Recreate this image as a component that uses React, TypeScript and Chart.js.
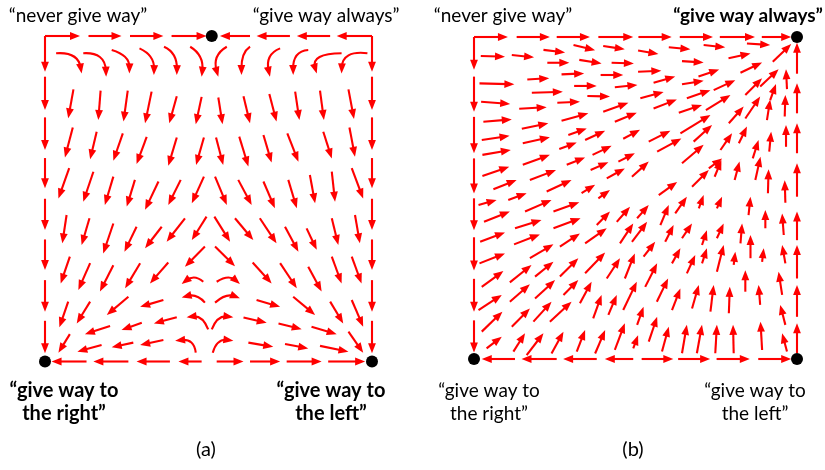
import React, { useEffect, useRef } from "react";
import { Chart, registerables } from "chart.js";

Chart.register(...registerables);

// Each arrow: [x1, y1, x2, y2] (straight) or [x1, y1, xm, ym, x2, y2] (curved through mid point)
// Coordinates are the strategy-space values (0..1) of tail and head.

// ---------- Panel (a) ----------
const aEdgeTop = [
  [0, 1, 0.107, 1], [0.133, 1, 0.234, 1], [0.26, 1, 0.362, 1], [0.387, 1, 0.494, 1],
  [0.627, 1, 0.535, 1], [0.749, 1, 0.647, 1], [0.872, 1, 0.77, 1], [1, 1, 0.892, 1],
];
const aEdgeBottom = [
  [0.127, 0, 0.02, 0], [0.255, 0, 0.148, 0], [0.382, 0, 0.28, 0], [0.479, 0, 0.408, 0],
  [0.525, 0, 0.607, 0], [0.627, 0, 0.719, 0], [0.739, 0, 0.846, 0], [0.866, 0, 0.979, 0],
];
const aEdgeLeft = [
  [0, 1, 0, 0.89], [0, 0.875, 0, 0.773], [0, 0.75, 0, 0.65], [0, 0.625, 0, 0.532],
  [0, 0.5, 0, 0.404], [0, 0.375, 0, 0.281], [0, 0.25, 0, 0.153], [0, 0.125, 0, 0.025],
];
const aEdgeRight = [
  [1, 1, 1, 0.89], [1, 0.875, 1, 0.773], [1, 0.75, 1, 0.65], [1, 0.625, 1, 0.532],
  [1, 0.5, 1, 0.404], [1, 0.375, 1, 0.281], [1, 0.25, 1, 0.153], [1, 0.125, 1, 0.025],
];
const aRow1 = [
  [0.034, 0.947, 0.087, 0.934, 0.112, 0.885],
  [0.117, 0.947, 0.168, 0.931, 0.187, 0.875],
  [0.204, 0.957, 0.245, 0.931, 0.258, 0.885],
  [0.289, 0.962, 0.323, 0.931, 0.333, 0.88],
  [0.364, 0.967, 0.394, 0.936, 0.403, 0.88],
  [0.444, 0.967, 0.474, 0.931, 0.479, 0.875],
  [0.556, 0.967, 0.527, 0.931, 0.53, 0.875],
  [0.627, 0.967, 0.607, 0.936, 0.601, 0.88],
  [0.719, 0.962, 0.688, 0.931, 0.688, 0.875],
  [0.805, 0.957, 0.77, 0.936, 0.759, 0.88],
  [0.907, 0.947, 0.841, 0.931, 0.831, 0.885],
  [0.986, 0.947, 0.928, 0.936, 0.907, 0.885],
];
const aRow2 = [
  [0.087, 0.836, 0.071, 0.747], [0.17, 0.832, 0.163, 0.742], [0.253, 0.832, 0.24, 0.737],
  [0.326, 0.829, 0.306, 0.732], [0.403, 0.815, 0.38, 0.732], [0.479, 0.813, 0.461, 0.729],
  [0.53, 0.811, 0.543, 0.729], [0.607, 0.815, 0.627, 0.732], [0.686, 0.822, 0.708, 0.737],
  [0.765, 0.829, 0.778, 0.742], [0.841, 0.832, 0.853, 0.742], [0.928, 0.836, 0.945, 0.745],
];
const aRow3 = [
  [0.085, 0.719, 0.061, 0.627], [0.158, 0.706, 0.138, 0.621], [0.238, 0.701, 0.209, 0.617],
  [0.311, 0.69, 0.28, 0.607], [0.403, 0.688, 0.377, 0.601], [0.486, 0.688, 0.462, 0.604],
  [0.523, 0.688, 0.545, 0.604], [0.594, 0.691, 0.622, 0.599], [0.668, 0.696, 0.693, 0.611],
  [0.741, 0.701, 0.775, 0.614], [0.851, 0.706, 0.877, 0.624], [0.931, 0.719, 0.948, 0.629],
];
const aRow4 = [
  [0.074, 0.594, 0.041, 0.501], [0.148, 0.583, 0.117, 0.491], [0.209, 0.568, 0.183, 0.481],
  [0.275, 0.558, 0.25, 0.476], [0.347, 0.553, 0.306, 0.466], [0.415, 0.558, 0.377, 0.481],
  [0.486, 0.568, 0.449, 0.486], [0.52, 0.568, 0.556, 0.481], [0.591, 0.558, 0.632, 0.481],
  [0.668, 0.553, 0.703, 0.471], [0.744, 0.558, 0.77, 0.471], [0.81, 0.573, 0.826, 0.486],
  [0.877, 0.583, 0.887, 0.491], [0.938, 0.594, 0.973, 0.501],
];
const aRow5 = [
  [0.066, 0.45, 0.053, 0.363], [0.136, 0.44, 0.112, 0.358], [0.209, 0.424, 0.178, 0.332],
  [0.28, 0.414, 0.243, 0.337], [0.357, 0.414, 0.306, 0.348], [0.428, 0.44, 0.372, 0.368],
  [0.494, 0.445, 0.449, 0.373], [0.518, 0.445, 0.566, 0.368], [0.581, 0.44, 0.637, 0.373],
  [0.657, 0.44, 0.708, 0.363], [0.734, 0.414, 0.775, 0.337], [0.8, 0.409, 0.831, 0.343],
  [0.877, 0.44, 0.897, 0.358], [0.948, 0.45, 0.963, 0.363],
];
const aRow6 = [
  [0.076, 0.322, 0.048, 0.24], [0.138, 0.302, 0.102, 0.22], [0.209, 0.296, 0.168, 0.215],
  [0.291, 0.302, 0.245, 0.225], [0.377, 0.304, 0.321, 0.24], [0.489, 0.353, 0.428, 0.291],
  [0.52, 0.353, 0.581, 0.293], [0.635, 0.304, 0.693, 0.24], [0.719, 0.302, 0.77, 0.225],
  [0.805, 0.291, 0.846, 0.215], [0.877, 0.322, 0.907, 0.24], [0.938, 0.322, 0.968, 0.24],
];
const aSaddle = [
  [0.484, 0.245, 0.454, 0.255, 0.418, 0.238], [0.525, 0.245, 0.561, 0.255, 0.596, 0.238],
  [0.489, 0.181, 0.459, 0.199, 0.418, 0.197], [0.52, 0.181, 0.556, 0.199, 0.596, 0.194],
  [0.499, 0.099, 0.474, 0.13, 0.433, 0.136], [0.51, 0.099, 0.535, 0.13, 0.576, 0.136],
  [0.461, 0.027, 0.443, 0.058, 0.398, 0.064], [0.513, 0.027, 0.535, 0.058, 0.576, 0.064],
];
const aRow7 = [
  [0.071, 0.184, 0.044, 0.105], [0.138, 0.184, 0.097, 0.117], [0.255, 0.199, 0.189, 0.143],
  [0.362, 0.189, 0.291, 0.168], [0.647, 0.189, 0.719, 0.168], [0.759, 0.199, 0.826, 0.143],
  [0.872, 0.184, 0.912, 0.117], [0.938, 0.189, 0.973, 0.107],
];
const aRow8 = [
  [0.403, 0.136, 0.333, 0.117], [0.296, 0.119, 0.234, 0.097], [0.199, 0.109, 0.122, 0.084],
  [0.076, 0.084, 0.041, 0.027], [0.607, 0.135, 0.678, 0.119], [0.714, 0.117, 0.785, 0.099],
  [0.815, 0.107, 0.892, 0.084], [0.928, 0.092, 0.973, 0.027],
];
const aRow9 = [
  [0.173, 0.051, 0.099, 0.03], [0.27, 0.058, 0.204, 0.044], [0.362, 0.066, 0.291, 0.051],
  [0.622, 0.058, 0.698, 0.045], [0.734, 0.054, 0.805, 0.04], [0.841, 0.048, 0.928, 0.03],
];
const aDots = [[0.51, 1], [0, 0], [1, 0]];

// ---------- Panel (b) ----------
const bEdgeTop = [
  [0, 1, 0.105, 1], [0.132, 1, 0.235, 1], [0.256, 1, 0.359, 1], [0.385, 1, 0.493, 1],
  [0.509, 1, 0.612, 1], [0.637, 1, 0.74, 1], [0.761, 1, 0.87, 1], [0.891, 1, 0.982, 1],
];
const bEdgeBottom = [
  [0.127, 0, 0.024, 0], [0.256, 0, 0.147, 0], [0.38, 0, 0.276, 0], [0.493, 0, 0.405, 0],
  [0.519, 0, 0.617, 0], [0.632, 0, 0.731, 0], [0.751, 0, 0.854, 0], [0.88, 0, 0.982, 0],
];
const bEdgeLeft = [
  [0, 1, 0, 0.898], [0, 0.877, 0, 0.768], [0, 0.752, 0, 0.639], [0, 0.623, 0, 0.514],
  [0, 0.499, 0, 0.4], [0, 0.378, 0, 0.275], [0, 0.249, 0, 0.147], [0, 0.12, 0, 0.02],
];
const bEdgeRight = [
  [1, 0.018, 1, 0.111], [1, 0.131, 1, 0.23], [1, 0.25, 1, 0.354], [1, 0.369, 1, 0.458],
  [1, 0.504, 1, 0.608], [1, 0.639, 1, 0.732], [1, 0.763, 1, 0.856], [1, 0.886, 1, 0.982],
];
const bTopLeft = [
  [0.215, 0.96, 0.282, 0.952], [0.308, 0.975, 0.375, 0.959], [0.4, 0.972, 0.467, 0.962],
  [0.021, 0.941, 0.096, 0.939], [0.117, 0.944, 0.186, 0.937], [0.227, 0.92, 0.295, 0.92],
  [0.326, 0.929, 0.395, 0.918], [0.426, 0.92, 0.495, 0.918], [0.271, 0.884, 0.341, 0.887],
  [0.165, 0.868, 0.233, 0.872], [0.392, 0.882, 0.462, 0.882], [0.017, 0.856, 0.125, 0.853],
  [0.31, 0.848, 0.38, 0.848], [0.436, 0.844, 0.506, 0.851], [0.179, 0.827, 0.275, 0.83],
  [0.351, 0.817, 0.421, 0.815], [0.022, 0.799, 0.112, 0.792], [0.14, 0.777, 0.225, 0.782],
  [0.258, 0.796, 0.328, 0.799], [0.4, 0.768, 0.478, 0.796], [0.029, 0.737, 0.117, 0.744],
  [0.148, 0.715, 0.23, 0.732], [0.271, 0.74, 0.354, 0.763], [0.436, 0.737, 0.504, 0.765],
  [0.024, 0.68, 0.11, 0.693], [0.151, 0.67, 0.235, 0.689], [0.292, 0.696, 0.349, 0.716],
  [0.344, 0.68, 0.406, 0.709], [0.462, 0.684, 0.514, 0.712], [0.026, 0.634, 0.114, 0.649],
  [0.151, 0.603, 0.235, 0.634], [0.264, 0.652, 0.318, 0.672], [0.367, 0.634, 0.426, 0.662],
  [0.447, 0.613, 0.498, 0.639], [0.026, 0.568, 0.109, 0.597], [0.173, 0.556, 0.254, 0.587],
  [0.287, 0.603, 0.344, 0.626], [0.361, 0.587, 0.416, 0.611], [0.411, 0.561, 0.467, 0.592],
  [0.06, 0.527, 0.132, 0.556], [0.225, 0.52, 0.302, 0.556], [0.333, 0.515, 0.375, 0.541],
  [0.385, 0.499, 0.421, 0.525], [0.106, 0.494, 0.163, 0.515], [0.489, 0.566, 0.541, 0.613],
];
const bTopRight = [
  [0.508, 0.958, 0.571, 0.947], [0.603, 0.968, 0.67, 0.962], [0.711, 0.975, 0.778, 0.968],
  [0.845, 0.98, 0.917, 0.975], [0.644, 0.925, 0.711, 0.921], [0.788, 0.934, 0.856, 0.949],
  [0.925, 0.923, 0.982, 0.978], [0.508, 0.892, 0.58, 0.895], [0.695, 0.877, 0.759, 0.899],
  [0.825, 0.889, 0.892, 0.921], [0.556, 0.858, 0.623, 0.877], [0.644, 0.853, 0.711, 0.864],
  [0.886, 0.846, 0.943, 0.9], [0.969, 0.838, 0.966, 0.9], [0.515, 0.81, 0.587, 0.829],
  [0.659, 0.81, 0.732, 0.835], [0.742, 0.835, 0.809, 0.866], [0.84, 0.82, 0.892, 0.872],
  [0.917, 0.804, 0.935, 0.854], [0.556, 0.778, 0.628, 0.806], [0.634, 0.765, 0.706, 0.789],
  [0.718, 0.773, 0.794, 0.82], [0.789, 0.732, 0.835, 0.784], [0.84, 0.747, 0.886, 0.815],
  [0.907, 0.742, 0.917, 0.806], [0.962, 0.753, 0.964, 0.82], [0.541, 0.675, 0.608, 0.709],
  [0.639, 0.701, 0.732, 0.758], [0.68, 0.675, 0.737, 0.727], [0.763, 0.649, 0.799, 0.701],
  [0.82, 0.67, 0.845, 0.722], [0.863, 0.623, 0.881, 0.68], [0.914, 0.644, 0.92, 0.706],
  [0.966, 0.659, 0.966, 0.727], [0.567, 0.644, 0.642, 0.685], [0.644, 0.608, 0.711, 0.665],
  [0.727, 0.592, 0.768, 0.623], [0.572, 0.509, 0.629, 0.55], [0.675, 0.535, 0.727, 0.587],
  [0.745, 0.566, 0.766, 0.618], [0.807, 0.556, 0.822, 0.613], [0.871, 0.556, 0.887, 0.628],
  [0.91, 0.515, 0.912, 0.589], [0.964, 0.485, 0.962, 0.555],
];
const bBottomLeft = [
  [0.014, 0.478, 0.07, 0.494], [0.158, 0.458, 0.24, 0.494], [0.246, 0.458, 0.326, 0.487],
  [0.031, 0.426, 0.111, 0.458], [0.127, 0.406, 0.209, 0.432], [0.246, 0.406, 0.33, 0.437],
  [0.38, 0.416, 0.421, 0.458], [0.442, 0.426, 0.483, 0.473], [0.019, 0.364, 0.096, 0.393],
  [0.124, 0.356, 0.204, 0.387], [0.266, 0.349, 0.328, 0.39], [0.344, 0.359, 0.411, 0.406],
  [0.452, 0.359, 0.493, 0.421], [0.017, 0.297, 0.096, 0.328], [0.173, 0.313, 0.246, 0.356],
  [0.189, 0.256, 0.246, 0.302], [0.024, 0.224, 0.091, 0.273], [0.111, 0.238, 0.178, 0.292],
  [0.266, 0.256, 0.323, 0.313], [0.344, 0.266, 0.406, 0.331], [0.411, 0.25, 0.452, 0.313],
  [0.467, 0.25, 0.498, 0.328], [0.014, 0.152, 0.086, 0.199], [0.111, 0.178, 0.173, 0.232],
  [0.189, 0.188, 0.251, 0.245], [0.277, 0.199, 0.323, 0.245], [0.328, 0.173, 0.364, 0.24],
  [0.369, 0.126, 0.395, 0.199], [0.416, 0.137, 0.442, 0.199], [0.462, 0.152, 0.504, 0.24],
  [0.024, 0.085, 0.088, 0.147], [0.117, 0.1, 0.173, 0.157], [0.184, 0.116, 0.24, 0.178],
  [0.235, 0.116, 0.302, 0.178], [0.039, 0.033, 0.086, 0.069], [0.122, 0.023, 0.158, 0.08],
  [0.163, 0.012, 0.215, 0.08], [0.24, 0.017, 0.277, 0.085], [0.318, 0.023, 0.344, 0.09],
  [0.375, 0.017, 0.406, 0.09], [0.436, 0.028, 0.467, 0.111], [0.493, 0.033, 0.508, 0.074],
];
const bBottomRight = [
  [0.505, 0.437, 0.541, 0.478], [0.577, 0.416, 0.603, 0.478], [0.623, 0.452, 0.659, 0.504],
  [0.696, 0.468, 0.711, 0.509], [0.752, 0.468, 0.768, 0.504], [0.85, 0.447, 0.856, 0.504],
  [0.489, 0.364, 0.536, 0.426], [0.592, 0.364, 0.618, 0.416], [0.644, 0.375, 0.675, 0.421],
  [0.706, 0.354, 0.721, 0.4], [0.752, 0.375, 0.773, 0.421], [0.825, 0.359, 0.83, 0.421],
  [0.902, 0.406, 0.902, 0.463], [0.959, 0.385, 0.954, 0.452], [0.525, 0.318, 0.561, 0.364],
  [0.613, 0.297, 0.639, 0.344], [0.659, 0.266, 0.685, 0.323], [0.706, 0.297, 0.721, 0.344],
  [0.752, 0.271, 0.773, 0.354], [0.804, 0.292, 0.809, 0.333], [0.856, 0.313, 0.856, 0.385],
  [0.892, 0.302, 0.897, 0.344], [0.964, 0.297, 0.954, 0.354], [0.53, 0.224, 0.567, 0.297],
  [0.566, 0.178, 0.601, 0.25], [0.613, 0.152, 0.639, 0.219], [0.675, 0.157, 0.696, 0.23],
  [0.732, 0.147, 0.742, 0.23], [0.789, 0.142, 0.792, 0.224], [0.84, 0.209, 0.84, 0.276],
  [0.886, 0.168, 0.881, 0.23], [0.954, 0.199, 0.943, 0.271], [0.505, 0.106, 0.525, 0.162],
  [0.541, 0.054, 0.567, 0.131], [0.582, 0.023, 0.603, 0.1], [0.644, 0.018, 0.659, 0.106],
  [0.69, 0.018, 0.706, 0.106], [0.747, 0.018, 0.752, 0.106], [0.804, 0.018, 0.802, 0.106],
  [0.892, 0.028, 0.887, 0.116], [0.964, 0.106, 0.948, 0.168], [0.969, 0.023, 0.954, 0.08],
];
const bDots = [[1, 1], [0, 0], [1, 0]];

// ---------- Text ----------
const aCornerText = [["“never give way”"], ["“give way always”"], ["“give way to", "the right”"], ["“give way to", "the left”"]];
const bCornerText = [["“never give way”"], ["“give way always”"], ["“give way to", "the right”"], ["“give way to", "the left”"]];
const captions = ["(a)", "(b)"];

const RED = "#ff0000";
const FONT = "Lato, 'Open Sans', sans-serif";

function toArrowData(groups: number[][][]) {
  const out: any[] = [];
  for (const g of groups)
    for (const a of g) {
      if (a.length === 6) out.push({ x: a[0], y: a[1], mx: a[2], my: a[3], x2: a[4], y2: a[5] });
      else out.push({ x: a[0], y: a[1], x2: a[2], y2: a[3] });
    }
  return out;
}

const arrowPlugin = {
  id: "arrowField",
  beforeDatasetsDraw(chart: any) {
    const { ctx, scales } = chart;
    const sx = scales.x;
    const sy = scales.y;
    ctx.save();
    ctx.strokeStyle = RED;
    ctx.fillStyle = RED;
    ctx.lineWidth = 2.1;
    ctx.lineCap = "butt";
    ctx.lineJoin = "round";
    const HL = 10;
    const HW = 3.9;
    chart.data.datasets.forEach((ds: any) => {
      if (!ds.isArrows) return;
      for (const p of ds.data) {
        const x1 = sx.getPixelForValue(p.x);
        const y1 = sy.getPixelForValue(p.y);
        const x2 = sx.getPixelForValue(p.x2);
        const y2 = sy.getPixelForValue(p.y2);
        const curved = p.mx !== undefined;
        let cx = x1;
        let cy = y1;
        if (curved) {
          const mx = sx.getPixelForValue(p.mx);
          const my = sy.getPixelForValue(p.my);
          cx = 2 * mx - (x1 + x2) / 2;
          cy = 2 * my - (y1 + y2) / 2;
        }
        let dx = x2 - cx;
        let dy = y2 - cy;
        const len = Math.hypot(dx, dy) || 1;
        dx /= len;
        dy /= len;
        const ex = x2 - dx * HL * 0.6;
        const ey = y2 - dy * HL * 0.6;
        ctx.beginPath();
        ctx.moveTo(x1, y1);
        if (curved) ctx.quadraticCurveTo(cx, cy, ex, ey);
        else ctx.lineTo(ex, ey);
        ctx.stroke();
        const bx = x2 - dx * HL;
        const by = y2 - dy * HL;
        ctx.beginPath();
        ctx.moveTo(x2, y2);
        ctx.lineTo(bx - dy * HW, by + dx * HW);
        ctx.lineTo(bx + dy * HW, by - dx * HW);
        ctx.closePath();
        ctx.fill();
      }
    });
    ctx.restore();
  },
};

const labelPlugin = {
  id: "cornerLabels",
  afterDraw(chart: any) {
    const opts = chart.options.plugins.cornerLabels;
    if (!opts) return;
    const { ctx } = chart;
    ctx.save();
    ctx.fillStyle = "#000";
    ctx.textAlign = "center";
    ctx.textBaseline = "alphabetic";
    for (const item of opts.items) {
      ctx.font = `${item.bold ? "bold " : ""}${item.size}px ${FONT}`;
      item.lines.forEach((line: string, i: number) => {
        ctx.fillText(line, item.cx - opts.offsetX, item.y + i * 23);
      });
    }
    ctx.restore();
  },
};

type PanelProps = {
  groups: number[][][];
  dots: number[][];
  left: number;
  width: number;
  area: { l: number; r: number; t: number; b: number };
  labels: any[];
};

function Panel({ groups, dots, left, width, area, labels }: PanelProps) {
  const ref = useRef<HTMLCanvasElement>(null);
  useEffect(() => {
    if (!ref.current) return;
    const chart = new Chart(ref.current, {
      type: "scatter",
      data: {
        datasets: [
          {
            isArrows: true,
            data: toArrowData(groups),
            pointRadius: 0,
            showLine: false,
          } as any,
          {
            data: dots.map((d) => ({ x: d[0], y: d[1] })),
            pointRadius: 6,
            pointBorderWidth: 0,
            pointBackgroundColor: "#000",
            backgroundColor: "#000",
            borderColor: "#000",
            clip: false,
          } as any,
        ],
      },
      options: {
        responsive: false,
        animation: false,
        events: [],
        layout: {
          padding: { left: area.l - left, right: left + width - area.r, top: area.t, bottom: 470 - area.b },
        },
        scales: {
          x: { type: "linear", min: 0, max: 1, display: false },
          y: { type: "linear", min: 0, max: 1, display: false },
        },
        plugins: {
          legend: { display: false },
          tooltip: { enabled: false },
          cornerLabels: { items: labels, offsetX: left },
        } as any,
      },
      plugins: [arrowPlugin, labelPlugin],
    });
    return () => chart.destroy();
  }, []);
  return (
    <canvas
      ref={ref}
      width={width}
      height={470}
      style={{ position: "absolute", left, top: 0, width, height: 470 }}
    />
  );
}

export default function App() {
  const aLabels = [
    { lines: aCornerText[0], cx: 78, y: 22, bold: false, size: 19 },
    { lines: aCornerText[1], cx: 326, y: 22, bold: false, size: 19 },
    { lines: aCornerText[2], cx: 64, y: 397, bold: true, size: 20 },
    { lines: aCornerText[3], cx: 331, y: 397, bold: true, size: 20 },
    { lines: [captions[0]], cx: 206, y: 456, bold: false, size: 20 },
  ];
  const bLabels = [
    { lines: bCornerText[0], cx: 503, y: 22, bold: false, size: 19 },
    { lines: bCornerText[1], cx: 748, y: 22, bold: true, size: 19 },
    { lines: bCornerText[2], cx: 489, y: 397, bold: false, size: 19 },
    { lines: bCornerText[3], cx: 755, y: 397, bold: false, size: 19 },
    { lines: [captions[1]], cx: 633, y: 456, bold: false, size: 20 },
  ];
  return (
    <div style={{ position: "absolute", left: 0, top: 0, width: 825, height: 470, background: "#fff" }}>
      <Panel
        groups={[aEdgeTop, aEdgeBottom, aEdgeLeft, aEdgeRight, aRow1, aRow2, aRow3, aRow4, aRow5, aRow6, aSaddle, aRow7, aRow8, aRow9]}
        dots={aDots}
        left={0}
        width={412}
        area={{ l: 45, r: 372, t: 36, b: 361.5 }}
        labels={aLabels}
      />
      <Panel
        groups={[bEdgeTop, bEdgeBottom, bEdgeLeft, bEdgeRight, bTopLeft, bTopRight, bBottomLeft, bBottomRight]}
        dots={bDots}
        left={412}
        width={413}
        area={{ l: 474, r: 797, t: 37, b: 359 }}
        labels={bLabels}
      />
    </div>
  );
}
